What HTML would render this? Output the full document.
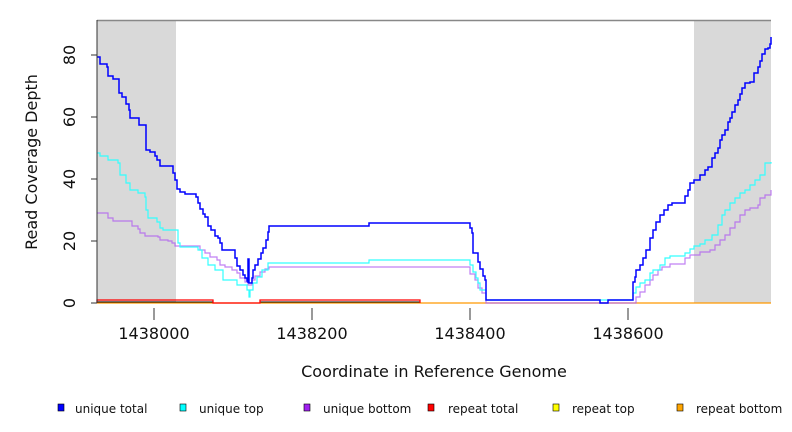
<!DOCTYPE html>
<html><head><meta charset="utf-8"><style>
body{margin:0;background:#fff;}
svg{display:block;font-family:"DejaVu Sans","Liberation Sans",sans-serif;}
</style></head><body>
<svg width="792" height="432" viewBox="0 0 792 432" xmlns="http://www.w3.org/2000/svg">
<rect width="792" height="432" fill="#fff"/>
<rect x="97" y="20" width="79" height="283" fill="#d9d9d9"/>
<rect x="694" y="20" width="77" height="283" fill="#d9d9d9"/>
<line x1="97" y1="20.5" x2="771" y2="20.5" stroke="#888" stroke-width="1.5"/>
<line x1="97" y1="303" x2="771" y2="303" stroke="#ff9900" stroke-width="1.2"/>
<polyline fill="none" stroke="#000" stroke-width="1" points="97,302 213,302"/>
<polyline fill="none" stroke="#000" stroke-width="1" points="260,302 420,302"/>
<polyline fill="none" stroke="#ff0000" stroke-width="1.3" points="97,303 97,300 213,300 213,303 260,303 260,300 420,300 420,303"/>
<polyline class="step" fill="none" stroke="#b060f0" stroke-opacity="0.8" stroke-width="1.2" points="97,213 107,213 108,218 113,218 113,221 130,221 132,226 138,226 138,229 140,233 145,233 145,236 158,237 160,240 168,241 172,243 175,246 195,246 200,250 205,253 210,257 217,260 220,265 225,267 232,270 237,273 240,278 245,282 248,285 252,280 255,276 260,272 265,269 269,267 469,267 470,274 475,280 478,288 482,293 486,303 634,303 636,297 640,292 645,285 650,280 653,275 658,270 662,267 670,264 683,264 685,258 690,255 700,252 710,250 715,245 720,240 725,235 730,228 735,222 740,215 745,210 750,208 758,205 760,198 765,195 771,190"/>
<polyline class="step" fill="none" stroke="#33ffff" stroke-width="1.2" points="97,153 100,153 100,156 108,156 108,160 118,160 118,163 120,175 126,183 130,190 138,193 145,197 146,210 148,218 157,222 160,228 163,230 173,230 178,243 180,247 187,247 198,250 202,258 208,265 215,270 223,280 237,285 247,290 249,297 250,290 253,283 257,277 262,270 268,263 369,263 369,260 469,260 470,265 473,272 476,278 478,283 480,290 486,300 633,300 633,293 636,287 640,283 645,280 650,273 653,270 660,265 665,258 670,256 680,256 685,253 690,249 694,246 700,244 705,240 712,235 718,225 722,215 725,210 730,203 735,198 740,193 745,190 750,185 755,180 760,175 765,163 771,162"/>
<polyline class="step" fill="none" stroke="#0000ff" stroke-width="1.5" points="97,57 100,57 100,64 105,64 107,67 108,76 113,76 113,79 118,79 119,93 122,97 126,104 129,110 130,118 138,118 139,125 145,125 146,150 150,152 155,156 157,160 160,166 170,166 173,173 175,180 177,189 180,192 185,194 195,194 196,197 198,203 200,209 203,214 205,217 208,226 211,230 215,236 218,238 220,243 222,250 232,250 235,258 237,266 240,270 243,275 245,278 247,281 248,283 248,259 249,259 249,283 250,283 252,278 253,270 255,265 258,259 261,253 263,248 266,240 268,232 269,226 369,226 369,223 469,223 470,228 472,233 473,253 476,253 478,262 480,269 483,276 485,280 486,280 486,300 599,300 600,303 608,303 608,300 633,300 633,282 635,277 636,270 640,265 643,258 646,250 650,238 653,230 656,222 660,215 664,210 668,205 672,203 683,203 685,196 688,190 690,183 694,180 700,175 705,170 708,167 712,158 715,153 718,148 720,140 722,135 725,130 728,122 730,118 732,112 735,105 738,100 740,94 742,88 745,83 750,82 754,73 758,67 760,61 762,54 765,49 768,48 770,44 771,37"/>
<line x1="97" y1="20" x2="97" y2="303" stroke="#333" stroke-width="1"/>
<g stroke="#333" stroke-width="1">
<line x1="91" y1="303" x2="97" y2="303"/><line x1="91" y1="241" x2="97" y2="241"/><line x1="91" y1="179" x2="97" y2="179"/><line x1="91" y1="117" x2="97" y2="117"/><line x1="91" y1="55" x2="97" y2="55"/>
<line x1="154" y1="308" x2="154" y2="320"/><line x1="312" y1="308" x2="312" y2="320"/><line x1="470" y1="308" x2="470" y2="320"/><line x1="628" y1="308" x2="628" y2="320"/>
</g>
<g font-size="16" fill="#111" text-anchor="middle">
<text transform="translate(75,303) rotate(-90)">0</text>
<text transform="translate(75,241) rotate(-90)">20</text>
<text transform="translate(75,179) rotate(-90)">40</text>
<text transform="translate(75,117) rotate(-90)">60</text>
<text transform="translate(75,55) rotate(-90)">80</text>
<text x="154" y="339">1438000</text><text x="312" y="339">1438200</text><text x="470" y="339">1438400</text><text x="628" y="339">1438600</text>
<text x="434" y="377">Coordinate in Reference Genome</text>
<text transform="translate(37,162) rotate(-90)">Read Coverage Depth</text>
</g>
<g font-size="12" fill="#111" stroke="#000" stroke-width="0.6">
<rect x="58" y="404" width="6" height="7" fill="#0000ff"/>
<rect x="180" y="404" width="6" height="7" fill="#00ffff"/>
<rect x="304" y="404" width="6" height="7" fill="#a020f0"/>
<rect x="428" y="404" width="6" height="7" fill="#ff0000"/>
<rect x="553" y="404" width="6" height="7" fill="#ffff00"/>
<rect x="677" y="404" width="6" height="7" fill="#ffa500"/>
</g>
<g font-size="12" fill="#111">
<text x="75" y="413">unique total</text>
<text x="199" y="413">unique top</text>
<text x="323" y="413">unique bottom</text>
<text x="448" y="413">repeat total</text>
<text x="572" y="413">repeat top</text>
<text x="696" y="413">repeat bottom</text>
</g>
</svg>
<script>
document.querySelectorAll('polyline.step').forEach(function(pl){
  var pts=pl.getAttribute('points').trim().split(/\s+/).map(function(p){return p.split(',').map(Number);});
  var out=[pts[0]];
  for(var i=1;i<pts.length;i++){
    var a=out[out.length-1],b=pts[i];
    if(a[0]!==b[0]&&a[1]!==b[1]){out.push([b[0],a[1]]);}
    out.push(b);
  }
  pl.setAttribute('points',out.map(function(p){return p[0]+','+p[1];}).join(' '));
});
</script>
</body></html>
